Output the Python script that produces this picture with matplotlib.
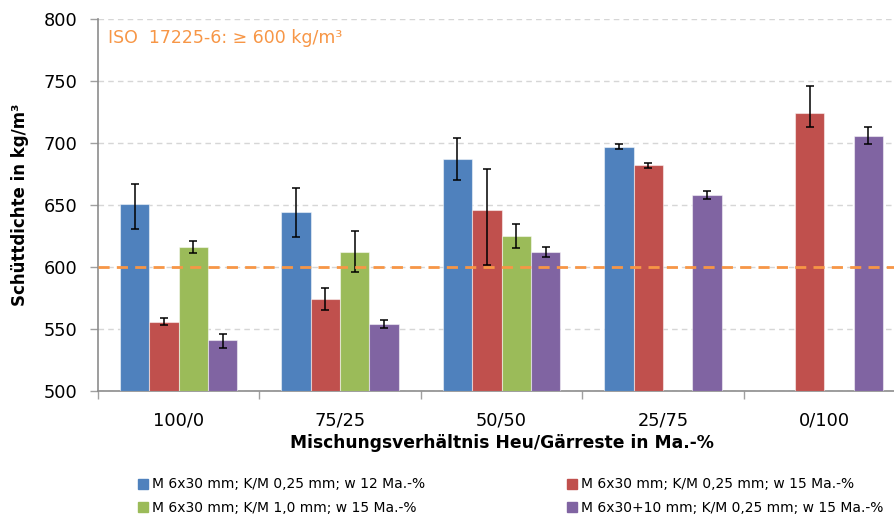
import numpy as np
import matplotlib
matplotlib.use("Agg")
import matplotlib.pyplot as plt
from matplotlib.lines import Line2D

plt.rcParams['font.family'] = ['DejaVu Sans']

categories = ["100/0", "75/25", "50/50", "25/75", "0/100"]
series_names = [
    "M 6x30 mm; K/M 0,25 mm; w 12 Ma.-%",
    "M 6x30 mm; K/M 0,25 mm; w 15 Ma.-%",
    "M 6x30 mm; K/M 1,0 mm; w 15 Ma.-%",
    "M 6x30+10 mm; K/M 0,25 mm; w 15 Ma.-%",
]
blue = [651, 644, 687, 697, np.nan]
red = [556, 574, 646, 682, 724]
green = [616, 612, 625, np.nan, np.nan]
purple = [541, 554, 612, 658, 706]

blue_err_lo = [20, 20, 17, 2, 0]
blue_err_hi = [16, 20, 17, 2, 0]
red_err_lo = [3, 9, 44, 2, 11]
red_err_hi = [3, 9, 33, 2, 22]
green_err_lo = [5, 16, 10, 0, 0]
green_err_hi = [5, 17, 10, 0, 0]
purple_err_lo = [6, 3, 4, 3, 7]
purple_err_hi = [5, 3, 4, 3, 7]

colors = ["#4F81BD", "#C0504D", "#9BBB59", "#8064A2"]
iso_value = 600

fig = plt.figure(figsize=(8.94, 5.19), dpi=100)
ax = fig.add_axes([98/894, 1-391/519, (905-98)/894, (391-19)/519])

values = [blue, red, green, purple]
errs = [(blue_err_lo, blue_err_hi), (red_err_lo, red_err_hi),
        (green_err_lo, green_err_hi), (purple_err_lo, purple_err_hi)]
x = np.arange(len(categories))
w = 0.182
for i, (vals, (lo, hi), c) in enumerate(zip(values, errs, colors)):
    pos = x + (i - 1.5) * w
    vals = np.array(vals, dtype=float)
    mask = ~np.isnan(vals)
    ax.bar(pos[mask], vals[mask] - 500, bottom=500, width=w, color=c,
           edgecolor=(1, 1, 1, 0.5), linewidth=0.8, zorder=3)
    ax.errorbar(pos[mask], vals[mask],
                yerr=[np.array(lo)[mask], np.array(hi)[mask]],
                fmt='none', ecolor='black', elinewidth=1.1, capsize=2.6,
                capthick=1.1, zorder=4)

ax.axhline(iso_value, color="#F79646", linestyle=(0, (4, 2.6)), linewidth=2, zorder=5)
ax.text(108/894, 1-38/519, "ISO  17225-6: ≥ 600 kg/m³", transform=fig.transFigure,
        color="#F79646", fontsize=12.5, va='center', ha='left')

ax.set_ylim(500, 800)
ax.set_xlim(-0.5, len(categories) - 0.5)
ax.set_yticks(np.arange(500, 801, 50))
ax.yaxis.grid(True, color="#D6D6D6", linestyle=(0, (4, 3)), linewidth=1, zorder=0)
ax.set_axisbelow(True)

ax.set_xticks(x)
ax.set_xticklabels(categories, fontsize=12.8)
ax.set_xticks(np.arange(-0.5, len(categories)), minor=True)
ax.tick_params(axis='x', which='major', length=0, pad=15)
ax.tick_params(axis='x', which='minor', length=6, color="#A0A0A0", width=1)
ax.tick_params(axis='y', labelsize=12.8, length=6, color="#A0A0A0", width=1, pad=9)

for s in ['top', 'right']:
    ax.spines[s].set_visible(False)
for s in ['left', 'bottom']:
    ax.spines[s].set_color("#8C8C8C")
    ax.spines[s].set_linewidth(1.2)

ax.set_ylabel("Schüttdichte in kg/m³", fontsize=12, fontweight='bold', labelpad=10)
ax.set_xlabel("Mischungsverhältnis Heu/Gärreste in Ma.-%", fontsize=12.3,
              fontweight='bold', labelpad=3)

order = [0, 2, 1, 3]
handles = [Line2D([], [], marker='s', linestyle='none', markersize=7,
                  markerfacecolor=colors[i], markeredgecolor=colors[i]) for i in order]
labels = [series_names[i] for i in order]
fig.legend(handles, labels, ncol=2, loc='center left', bbox_to_anchor=(130/894, 1-496/519),
           frameon=False, fontsize=10, handlelength=0.8, handletextpad=0.25,
           columnspacing=10.2, labelspacing=0.65, borderpad=0)

fig.savefig("out.png", dpi=100)
